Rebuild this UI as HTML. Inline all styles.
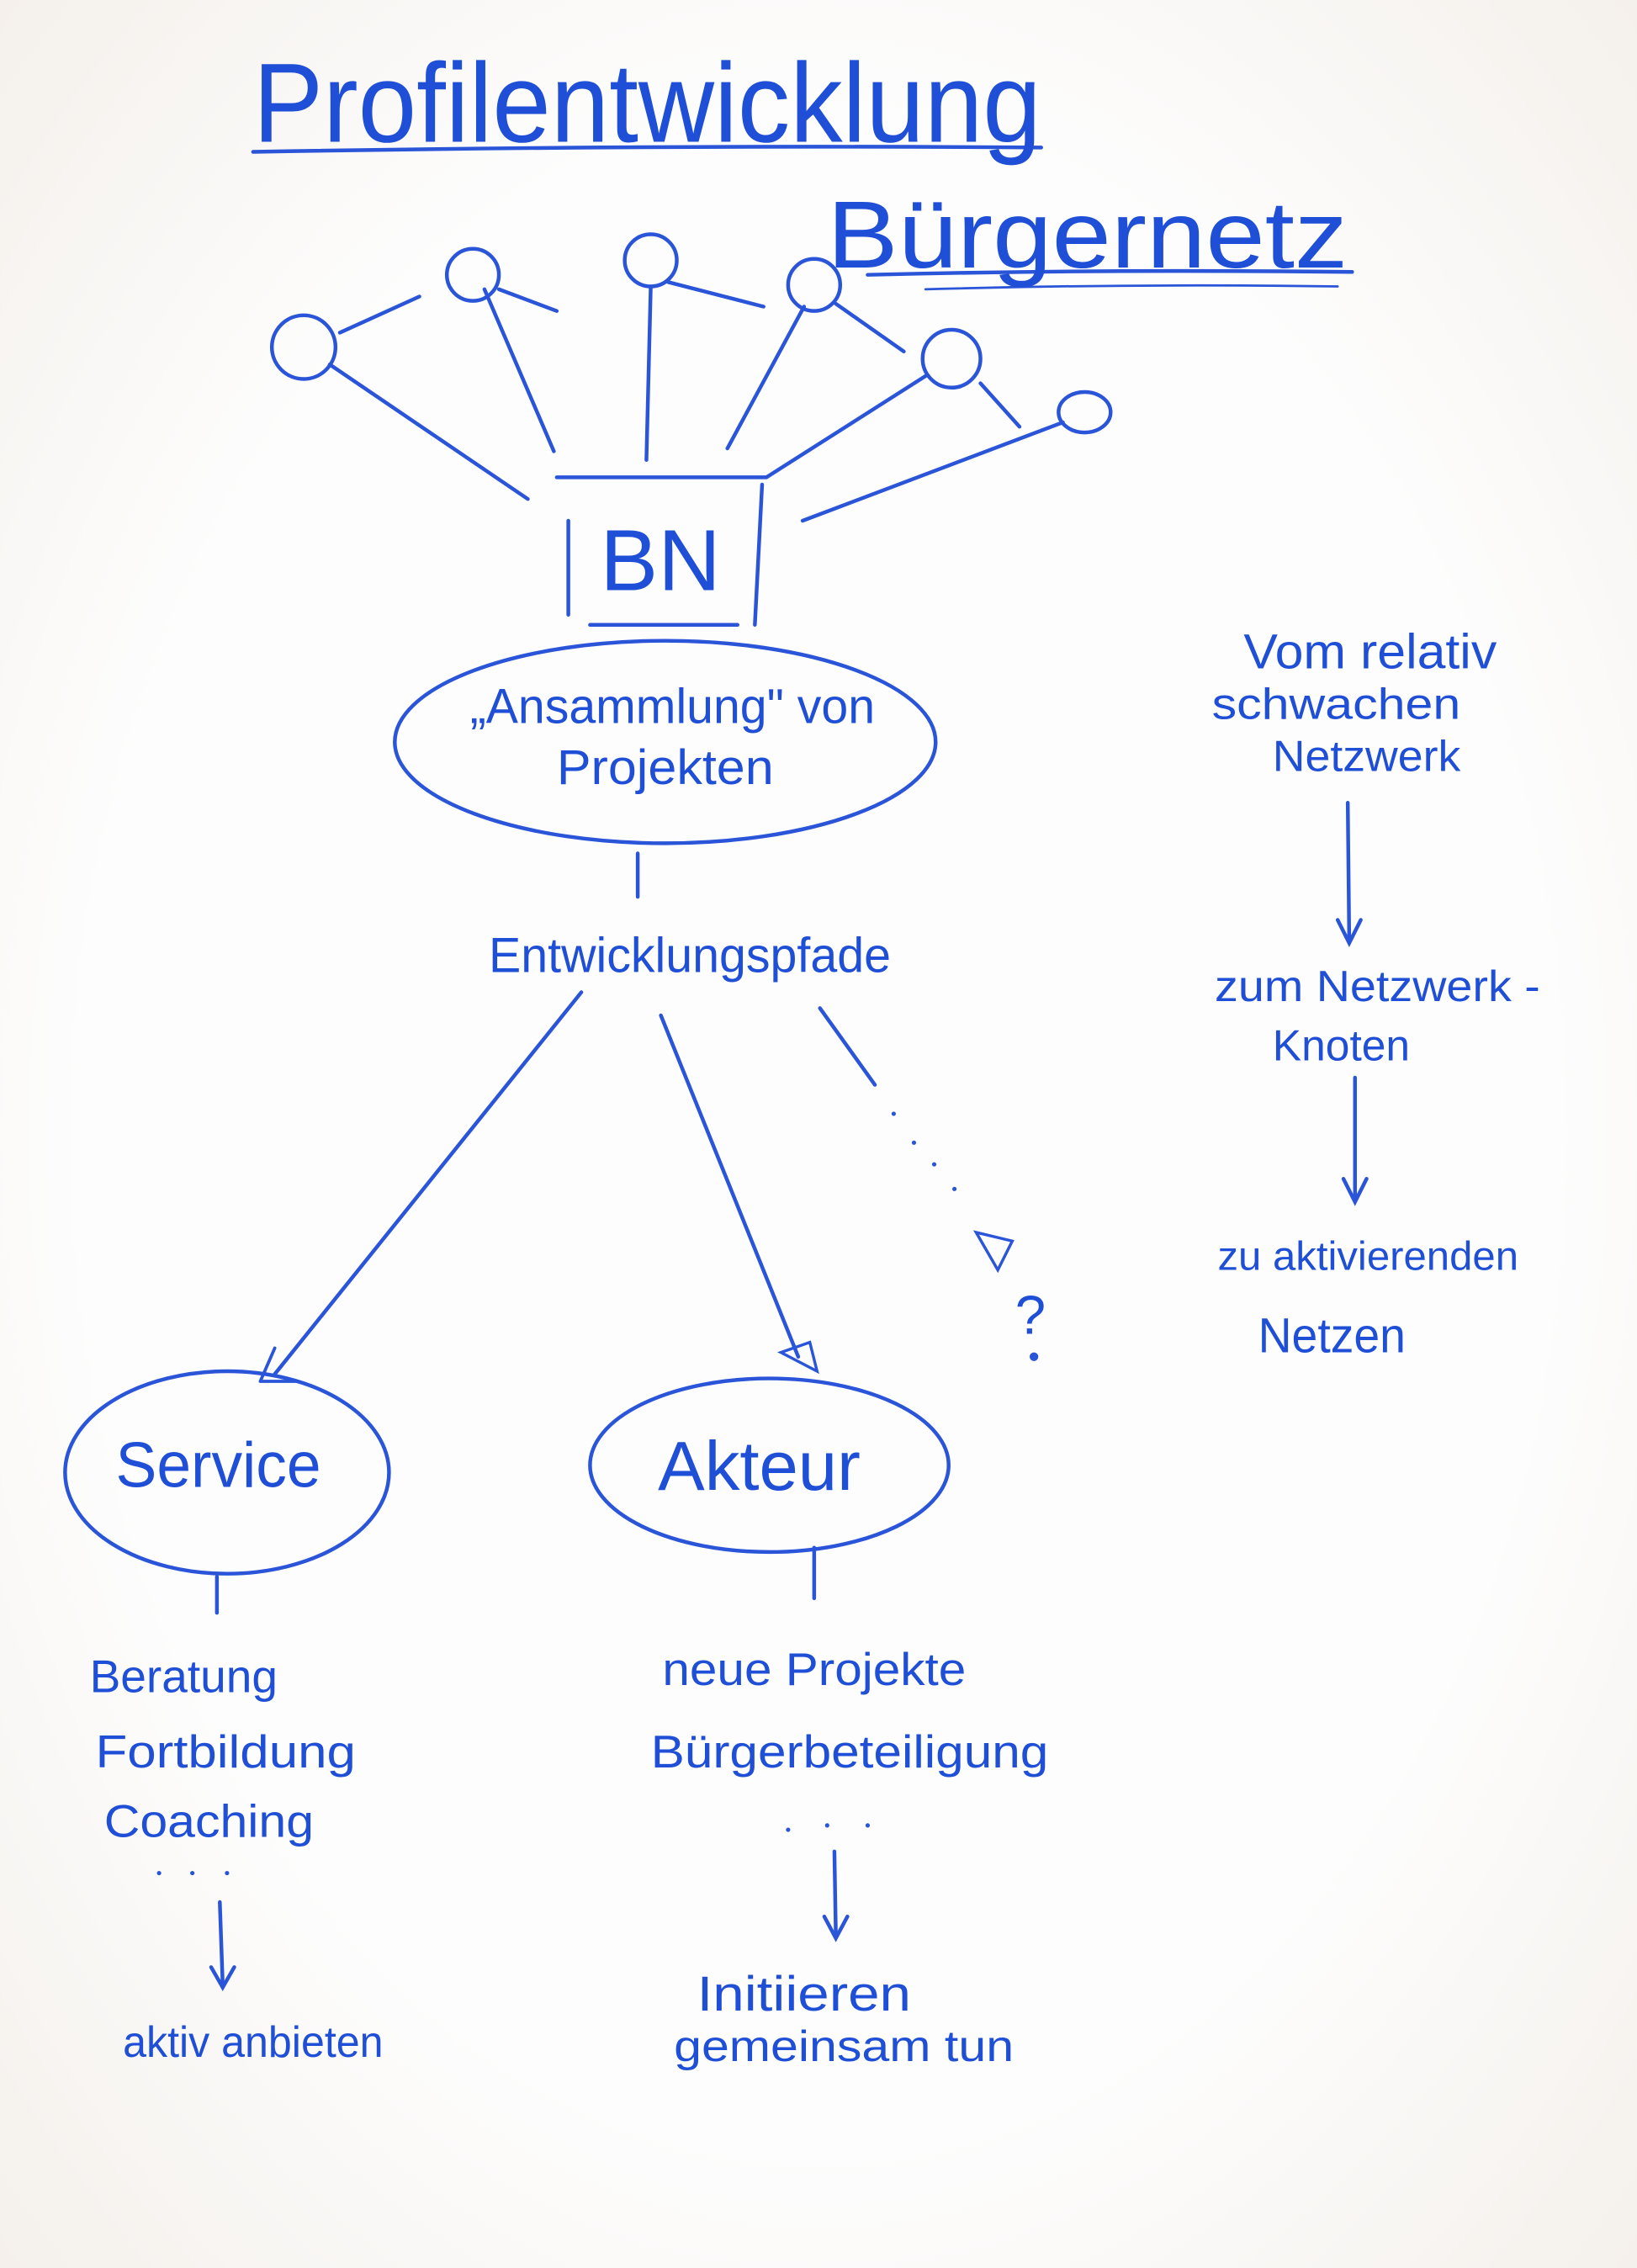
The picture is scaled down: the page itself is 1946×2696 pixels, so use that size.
<!DOCTYPE html>
<html><head><meta charset="utf-8"><style>
html,body{margin:0;padding:0;background:#fbfaf8;}
svg{display:block;}
text{font-family:"Liberation Sans",sans-serif;fill:#1f4fd6;}
</style></head><body>
<svg width="1946" height="2696" viewBox="0 0 1132 1568" preserveAspectRatio="none" xmlns="http://www.w3.org/2000/svg">
<defs>
<radialGradient id="bg" cx="50%" cy="50%" r="75%">
<stop offset="0.6" stop-color="#fdfdfd"/><stop offset="1" stop-color="#f3eee8"/></radialGradient>
</defs>
<rect width="1132" height="1568" fill="url(#bg)"/>
<g stroke="#2a55d8" stroke-width="2.6" fill="none" stroke-linecap="round">
<!-- title underlines -->
<path d="M175 105 Q450 100 720 102"/>
<path d="M600 190 Q760 186 935 188"/>
<path d="M640 200 Q780 196 925 198" stroke-width="1.6"/>
<!-- circles -->
<circle cx="210" cy="240" r="22"/>
<circle cx="327" cy="190" r="18"/>
<circle cx="450" cy="180" r="18"/>
<circle cx="563" cy="197" r="18"/>
<circle cx="658" cy="248" r="20"/>
<ellipse cx="750" cy="285" rx="18" ry="14"/>
<path d="M228 252 L365 345"/><path d="M235 230 L290 205"/>
<path d="M335 200 L383 312"/><path d="M345 200 L385 215"/>
<path d="M450 198 L447 318"/><path d="M462 195 L528 212"/>
<path d="M556 212 L503 310"/><path d="M578 210 L625 243"/>
<path d="M640 260 L530 330"/><path d="M678 265 L705 295"/>
<path d="M735 292 L555 360"/>
<!-- BN box -->
<path d="M385 330 L530 330"/><path d="M393 360 L393 425"/>
<path d="M527 335 L522 432"/><path d="M408 432 L510 432"/>
<ellipse cx="460" cy="513" rx="187" ry="70"/>
<path d="M441 590 L441 620"/>
<path d="M402 686 L190 950"/><path d="M180 955 L205 955 M180 955 L190 932" stroke-width="2.2"/>
<path d="M457 702 L552 938"/><path d="M540 935 L565 948 L560 928 Z" stroke-width="2"/>
<path d="M567 697 L605 750"/>
<path d="M675 852 L700 858 L690 878 Z" stroke-width="2"/>
<ellipse cx="157" cy="1018" rx="112" ry="70"/>
<ellipse cx="532" cy="1013" rx="124" ry="60"/>
<path d="M150 1090 L150 1115"/><path d="M563 1070 L563 1105"/>
<path d="M152 1315 L154 1372"/><path d="M146 1360 L154 1374 L162 1360"/>
<path d="M577 1280 L578 1338"/><path d="M570 1325 L578 1340 L586 1325"/>
<path d="M932 555 L933 650"/><path d="M925 636 L933 652 L941 636"/>
<path d="M937 745 L937 830"/><path d="M929 815 L937 831 L945 815"/>
</g>
<g fill="#2a55d8">
<circle cx="618" cy="770" r="1.5"/><circle cx="632" cy="790" r="1.5"/><circle cx="646" cy="805" r="1.5"/><circle cx="660" cy="822" r="1.5"/>
<circle cx="715" cy="938" r="3"/>
<circle cx="110" cy="1295" r="1.5"/><circle cx="133" cy="1295" r="1.5"/><circle cx="157" cy="1295" r="1.5"/>
<circle cx="545" cy="1265" r="1.5"/><circle cx="572" cy="1262" r="1.5"/><circle cx="600" cy="1262" r="1.5"/>
</g>
<text x="175" y="98" font-size="78" textLength="545" lengthAdjust="spacingAndGlyphs">Profilentwicklung</text>
<text x="572" y="185" font-size="66" textLength="360" lengthAdjust="spacingAndGlyphs">Bürgernetz</text>
<text x="415" y="408" font-size="60">BN</text>
<text x="325" y="500" font-size="34" textLength="280" lengthAdjust="spacingAndGlyphs">„Ansammlung" von</text>
<text x="385" y="542" font-size="34" textLength="150" lengthAdjust="spacingAndGlyphs">Projekten</text>
<text x="338" y="672" font-size="34" textLength="278" lengthAdjust="spacingAndGlyphs">Entwicklungspfade</text>
<text x="702" y="922" font-size="38">?</text>
<text x="80" y="1028" font-size="44" textLength="142" lengthAdjust="spacingAndGlyphs">Service</text>
<text x="455" y="1030" font-size="48" textLength="140" lengthAdjust="spacingAndGlyphs">Akteur</text>
<text x="62" y="1170" font-size="32" textLength="130" lengthAdjust="spacingAndGlyphs">Beratung</text>
<text x="66" y="1222" font-size="32" textLength="180" lengthAdjust="spacingAndGlyphs">Fortbildung</text>
<text x="72" y="1270" font-size="32" textLength="145" lengthAdjust="spacingAndGlyphs">Coaching</text>
<text x="85" y="1422" font-size="30" textLength="180" lengthAdjust="spacingAndGlyphs">aktiv anbieten</text>
<text x="458" y="1165" font-size="32" textLength="210" lengthAdjust="spacingAndGlyphs">neue Projekte</text>
<text x="450" y="1222" font-size="32" textLength="275" lengthAdjust="spacingAndGlyphs">Bürgerbeteiligung</text>
<text x="482" y="1390" font-size="34" textLength="148" lengthAdjust="spacingAndGlyphs">Initiieren</text>
<text x="466" y="1425" font-size="30" textLength="235" lengthAdjust="spacingAndGlyphs">gemeinsam tun</text>
<text x="860" y="462" font-size="34" textLength="175" lengthAdjust="spacingAndGlyphs">Vom relativ</text>
<text x="838" y="497" font-size="30" textLength="172" lengthAdjust="spacingAndGlyphs">schwachen</text>
<text x="880" y="533" font-size="30" textLength="130" lengthAdjust="spacingAndGlyphs">Netzwerk</text>
<text x="840" y="692" font-size="30" textLength="225" lengthAdjust="spacingAndGlyphs">zum Netzwerk -</text>
<text x="880" y="733" font-size="30" textLength="95" lengthAdjust="spacingAndGlyphs">Knoten</text>
<text x="842" y="878" font-size="28" textLength="208" lengthAdjust="spacingAndGlyphs">zu aktivierenden</text>
<text x="870" y="935" font-size="34" textLength="102" lengthAdjust="spacingAndGlyphs">Netzen</text>
</svg>
</body></html>
